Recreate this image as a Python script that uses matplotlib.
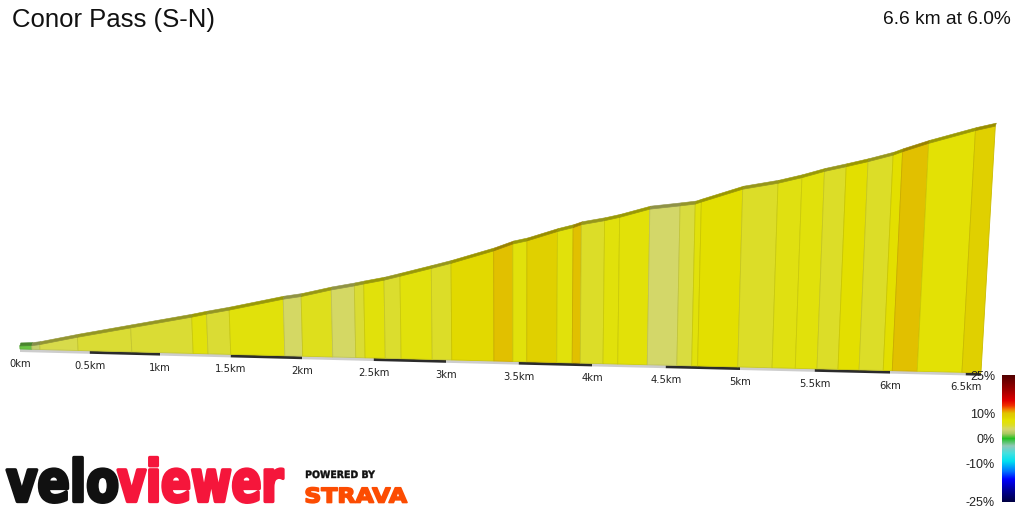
import numpy as np
import matplotlib
matplotlib.use("Agg")
import matplotlib.pyplot as plt
from matplotlib.patches import Polygon, PathPatch
from matplotlib.colors import LinearSegmentedColormap, Normalize
from matplotlib.cm import ScalarMappable
from matplotlib.textpath import TextPath
from matplotlib.font_manager import FontProperties
from matplotlib.transforms import Affine2D

# ---------------- data ----------------
title = "Conor Pass (S-N)"
summary = "6.6 km at 6.0%"
dist_km = [0, 0.086, 0.144, 0.417, 0.80, 1.235, 1.34, 1.50, 1.88, 2.005, 2.215, 2.375,
           2.44, 2.58, 2.69, 2.905, 3.04, 3.33, 3.46, 3.555, 3.76, 3.865, 3.92, 4.075,
           4.175, 4.375, 4.575, 4.675, 4.715, 4.985, 5.215, 5.37, 5.515, 5.655, 5.795,
           5.955, 6.015, 6.18, 6.475, 6.6]
elev_m = [14, 15, 17, 30.5, 48, 68, 73.5, 81, 101, 106, 118, 125.5, 129, 136, 143, 157,
          166, 188, 200, 205.5, 222, 229, 234, 241.5, 247.5, 262, 268.5, 272, 275.5, 298,
          309, 319, 330, 338.5, 347.5, 359, 365, 379.5, 402, 410]
grad_pct = [1.0, 3.0, 4.5, 5.0, 5.0, 6.5, 5.0, 6.5, 4.0, 5.8, 4.0, 5.0, 6.5, 5.2, 6.5,
            5.3, 8.0, 10.0, 6.5, 8.7, 6.5, 10.0, 5.3, 6.5, 6.8, 3.8, 4.8, 6.5, 7.5, 5.3,
            6.2, 6.5, 5.3, 7.5, 5.3, 7.5, 10.0, 7.0, 8.7]
km_ticks = [0, 0.5, 1, 1.5, 2, 2.5, 3, 3.5, 4, 4.5, 5, 5.5, 6, 6.5]
cbar_ticks = [-25, -10, 0, 10, 25]
cbar_labels = ["-25%", "-10%", "0%", "10%", "25%"]

# gradient colour scale
grad_stops = [-25, -20, -16, -13, -9, -6, -3, 0, 2, 3.5, 4.2, 5, 6.2, 7.3, 8.5, 10, 11.5, 13, 15, 19, 25]
grad_cols = ['#000040', '#0000a0', '#0000ff', '#0070ff', '#00e0f0', '#40e0e0', '#90c8b8',
             '#20c020', '#a8c860', '#d0d470', '#d6da60', '#dadc34', '#e0e010', '#e4e200',
             '#e0d200', '#e0c400', '#f08000', '#f03000', '#e00000', '#a00000', '#500000']
norm = Normalize(-25, 25)
cmap = LinearSegmentedColormap.from_list(
    "vv", [((g + 25) / 50, c) for g, c in zip(grad_stops, grad_cols)])

# ---------------- projection (pseudo 3D) ----------------
X0, XA, XB = 20.0, 139.0, 1.0
Y0, YC = 349.0, 3.6
E0, K = 9.0, 0.615
XV, HV = 515.0, 8000.0


def proj(d, e):
    xb = X0 + XA * d + XB * d ** 2
    yb = Y0 + YC * d
    h = (e - E0) * K
    return xb + h * (xb - XV) / HV, yb - h


fig = plt.figure(figsize=(10.24, 5.12), dpi=100)
ax = fig.add_axes([0, 0, 1, 1])
ax.set_xlim(0, 1024)
ax.set_ylim(512, 0)
ax.axis('off')

# base strip
for k in range(14):
    da, db = 0.5 * k, min(0.5 * (k + 1), dist_km[-1])
    xa, ya = proj(da, E0)
    xb_, yb_ = proj(db, E0)
    col = '#2b2b2b' if k % 2 else '#cdcdcd'
    ax.add_patch(Polygon([(xa, ya), (xb_, yb_), (xb_, yb_ + 3), (xa, ya + 3)],
                         closed=True, facecolor=col, edgecolor='none', zorder=2))

# segments
for i in range(len(grad_pct)):
    d0, d1 = dist_km[i], dist_km[i + 1]
    e0, e1 = elev_m[i], elev_m[i + 1]
    c = np.array(cmap(norm(grad_pct[i])))
    edge = c.copy(); edge[:3] *= 0.90
    p = [proj(d0, E0), proj(d1, E0), proj(d1, e1), proj(d0, e0)]
    ax.add_patch(Polygon(p, closed=True, facecolor=c, edgecolor=edge, lw=0.6, zorder=3))
    top = c.copy(); top[:3] *= 0.68
    t0, t1 = proj(d0, e0), proj(d1, e1)
    ax.add_patch(Polygon([t0, t1, (t1[0] + 1, t1[1] - 3), (t0[0] + 1, t0[1] - 3)],
                         closed=True, facecolor=top, edgecolor=top, lw=0.4, zorder=4))

# km labels
for d in km_ticks:
    x, y = proj(d, E0)
    ax.text(x, y + 15, f"{d:g}km", ha='center', va='center', fontsize=7.2,
            family='DejaVu Sans', color='#222222')

# titles
ax.text(12, 20, title, ha='left', va='center', fontsize=18.5,
        family='Liberation Sans', color='#111111')
ax.text(1011, 20, summary, ha='right', va='center', fontsize=13.8,
        family='Liberation Sans', color='#111111')


# logos via text paths fitted to boxes
def fit_text(s, x0, x1, ybase, ytop, color, stroke=0.0, family='DejaVu Sans', weight='bold'):
    tp = TextPath((0, 0), s, size=1, prop=FontProperties(family=family, weight=weight))
    bb = tp.get_extents()
    sx = (x1 - x0) / bb.width
    sy = (ybase - ytop) / bb.y1
    tr = Affine2D().translate(-bb.x0, 0).scale(sx, -sy).translate(x0, ybase) + ax.transData
    ax.add_patch(PathPatch(tp, transform=tr, facecolor=color, edgecolor=color if stroke else 'none',
                           lw=stroke, joinstyle='round'))


fit_text("velo", 7, 117, 501.5, 457.5, '#111111', stroke=2.4)
fit_text("viewer", 118, 283, 501.5, 457.5, '#f5163b', stroke=2.4)
fit_text("POWERED BY", 306, 375, 478, 470.5, '#111111', stroke=0.3)
fit_text("STRAVA", 306, 407, 502.5, 487.5, '#fc4c02', stroke=1.2)

# colour bar
cax = fig.add_axes([1002 / 1024, 10 / 512, 13 / 1024, 127 / 512])
cb = fig.colorbar(ScalarMappable(norm=norm, cmap=cmap), cax=cax)
cb.set_ticks(cbar_ticks)
cb.set_ticklabels(cbar_labels)
cb.outline.set_visible(False)
cax.yaxis.set_ticks_position('left')
cax.tick_params(length=0, pad=5, labelsize=9)
for t in cax.get_yticklabels():
    t.set_family('Liberation Sans')
    t.set_color('#222222')

fig.savefig("out.png", dpi=100)
